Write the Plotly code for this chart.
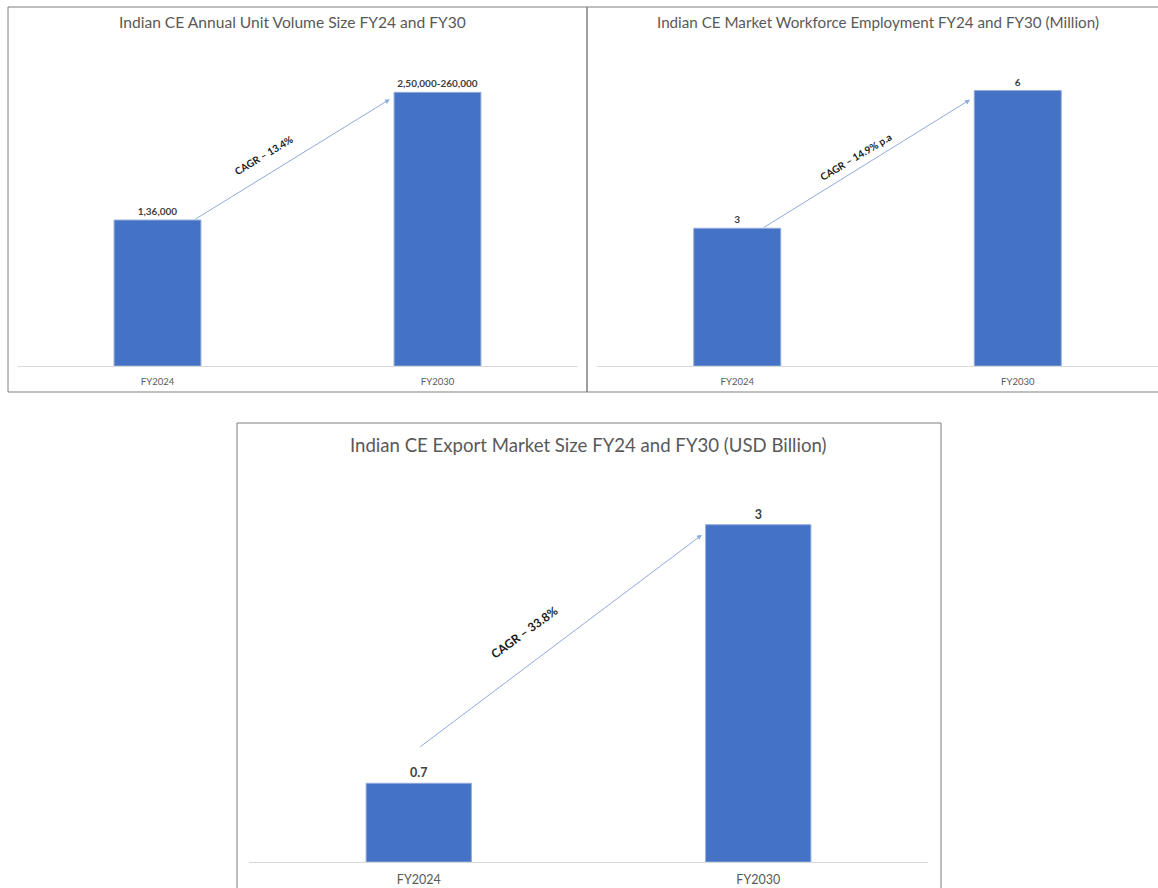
import plotly.graph_objects as go

# ---------------- data ----------------
categories = ["FY2024", "FY2030"]

units_values = [136000, 255000]
units_labels = ["1,36,000", "2,50,000-260,000"]
units_title = "Indian CE Annual Unit Volume Size FY24 and FY30"
units_cagr = "CAGR – 13.4%"

workforce_values = [3, 6]
workforce_labels = ["3", "6"]
workforce_title = "Indian CE Market Workforce Employment FY24 and FY30 (Million)"
workforce_cagr = "CAGR – 14.9% p.a"

export_values = [0.7, 3]
export_labels = ["0.7", "3"]
export_title = "Indian CE Export Market Size FY24 and FY30 (USD Billion)"
export_cagr = "CAGR – 33.8%"

# ---------------- layout helpers ----------------
W, H = 1158, 888
FONT = "Lato, 'Open Sans', sans-serif"
BAR = "#4472C4"
GREY = "#595959"


def px_x(p):
    return p / W


def px_y(p):
    return 1 - p / H


panels = [
    dict(vals=units_values, labels=units_labels, title=units_title, cagr=units_cagr,
         xd=(17.5, 577.5), yd=(366, 65), title_xy=(292, 22), title_size=15.6,
         lbl_size=10, tick_size=9.5, tick_off=7, cagr_size=10,
         border=(8, 7, 587, 392),
         arrow=(0.13, 1.0, -0.17, 0.975), cagr_pos=(0.38, 0.77), cagr_angle=-31),
    dict(vals=workforce_values, labels=workforce_labels, title=workforce_title, cagr=workforce_cagr,
         xd=(597, 1158), yd=(366, 63), title_xy=(878, 22), title_size=15.2,
         lbl_size=10, tick_size=9.5, tick_off=7, cagr_size=10,
         border=(587, 7, 1170, 392),
         arrow=(0.09, 1.0, -0.17, 0.967), cagr_pos=(0.42, 0.76), cagr_angle=-31),
    dict(vals=export_values, labels=export_labels, title=export_title, cagr=export_cagr,
         xd=(249, 928), yd=(862, 491), title_xy=(588, 445), title_size=18.6,
         lbl_size=12.5, tick_size=12.5, tick_off=6, cagr_size=12,
         border=(237, 423, 941, 900),
         arrow=(0.0, 1.45, -0.166, 0.97), cagr_pos=(0.31, 0.68), cagr_angle=-36),
]

fig = go.Figure()
annotations = []
shapes = []

for i, p in enumerate(panels):
    n = "" if i == 0 else str(i + 1)
    xa, ya = "x" + n, "y" + n
    fig.add_trace(go.Bar(
        x=categories, y=p["vals"], text=p["labels"], textposition="outside",
        textfont=dict(family=FONT, size=p["lbl_size"], color="#404040", weight="bold"),
        marker=dict(color=BAR, line=dict(color="#8FAADC", width=1)),
        width=0.31, cliponaxis=False, xaxis=xa, yaxis=ya, showlegend=False,
        hoverinfo="skip",
    ))
    ymax = max(p["vals"]) * 1.1
    fig.layout["xaxis" + n] = dict(
        domain=[px_x(p["xd"][0]), px_x(p["xd"][1])], anchor=ya,
        type="category", range=[-0.5, 1.5], showline=True, linecolor="#D9D9D9",
        linewidth=1, ticks="", showgrid=False, zeroline=False,
        ticklabelstandoff=p["tick_off"],
        tickfont=dict(family=FONT, size=p["tick_size"], color=GREY), fixedrange=True,
    )
    fig.layout["yaxis" + n] = dict(
        domain=[px_y(p["yd"][0]), px_y(p["yd"][1])], anchor=xa,
        range=[0, ymax], showticklabels=False, showgrid=False, zeroline=False,
        showline=False, fixedrange=True,
    )
    # title
    annotations.append(dict(
        text=p["title"], xref="paper", yref="paper",
        x=px_x(p["title_xy"][0]), y=px_y(p["title_xy"][1]),
        xanchor="center", yanchor="middle", showarrow=False,
        font=dict(family=FONT, size=p["title_size"], color=GREY),
    ))
    # arrow from FY2024 to FY2030
    a0x, a0y, a1x, a1y = p["arrow"]
    annotations.append(dict(
        text="", xref=xa, yref=ya, axref=xa, ayref=ya,
        ax=0 + a0x, ay=p["vals"][0] * a0y,
        x=1 + a1x, y=p["vals"][1] * a1y,
        showarrow=True, arrowhead=2, arrowsize=1, arrowwidth=1,
        arrowcolor="#8FAADC", standoff=0, startstandoff=0,
    ))
    # CAGR label
    annotations.append(dict(
        text="<b>" + p["cagr"] + "</b>", xref=xa, yref=ya,
        x=p["cagr_pos"][0], y=ymax * p["cagr_pos"][1] / 1.1,
        showarrow=False, textangle=p["cagr_angle"],
        font=dict(family=FONT, size=p["cagr_size"], color="#1a1a1a"),
    ))
    # panel border
    bx0, by0, bx1, by1 = p["border"]
    shapes.append(dict(
        type="rect", xref="paper", yref="paper",
        x0=px_x(bx0), x1=px_x(bx1), y0=px_y(by1), y1=px_y(by0),
        line=dict(color="#7F7F7F", width=1), fillcolor="rgba(0,0,0,0)", layer="above",
    ))

fig.update_layout(
    width=W, height=H, margin=dict(l=0, r=0, t=0, b=0),
    paper_bgcolor="white", plot_bgcolor="white",
    annotations=annotations, shapes=shapes, bargap=0.69,
    font=dict(family=FONT),
)

fig.write_html("out.html")
